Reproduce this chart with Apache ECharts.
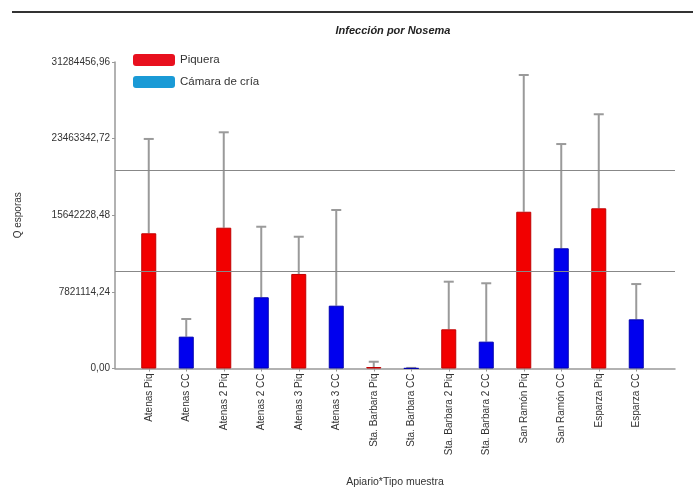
<!DOCTYPE html>
<html>
<head>
<meta charset="utf-8">
<script src="https://cdn.jsdelivr.net/npm/echarts@6/dist/echarts.min.js"></script>
<style>html,body{margin:0;padding:0;background:#fff;}#c{width:693px;height:490px;}</style>
</head>
<body>
<div id="c"></div>
<script>
var categories = ['Atenas Piq','Atenas CC','Atenas 2 Piq','Atenas 2 CC','Atenas 3 Piq','Atenas 3 CC','Sta. Barbara Piq','Sta. Barbara CC','Sta. Barbara 2 Piq','Sta. Barbara 2 CC','San Ramón Piq','San Ramón CC','Esparza Piq','Esparza CC'];
var sampleType = ['Piq','CC','Piq','CC','Piq','CC','Piq','CC','Piq','CC','Piq','CC','Piq','CC'];
var means = [13800000, 3250000, 14370000, 7270000, 9650000, 6410000, 150000, 20000, 4000000, 2740000, 16000000, 12270000, 16350000, 5020000];
var upper = [23430000, 5050000, 24110000, 14470000, 13450000, 16180000, 690000, 60000, 8860000, 8700000, 29960000, 22910000, 25950000, 8620000];
var refLines = [20200000, 9900000];
var yTicks = [0, 7821114.24, 15642228.48, 23463342.72, 31284456.96];
var seriesNames = ['Piquera', 'Cámara de cría'];

var yMax = yTicks[yTicks.length - 1];
var yInt = yTicks[1];

var piqData = means.map(function (v, i) { return sampleType[i] === 'Piq' ? v : '-'; });
var ccData = means.map(function (v, i) { return sampleType[i] === 'CC' ? v : '-'; });
var errData = means.map(function (v, i) { return [i, v, upper[i]]; });

function fmt(v) { return v.toFixed(2).replace('.', ','); }

var FONT = 'Liberation Sans';
var chart = echarts.init(document.getElementById('c'), null, {renderer: 'canvas'});
chart.setOption({
  animation: false,
  backgroundColor: '#fff',
  title: {
    text: 'Infección por Nosema',
    left: 393, top: 25, textAlign: 'center', padding: 0,
    textStyle: {fontSize: 11, fontWeight: 'bold', fontStyle: 'italic', color: '#222', fontFamily: FONT}
  },
  graphic: [{
    type: 'rect', left: 12, top: 11, shape: {width: 681, height: 2}, style: {fill: '#333'}
  }],
  legend: {
    orient: 'vertical', left: 133, top: 54, padding: 0,
    icon: 'roundRect', itemWidth: 42, itemHeight: 12, itemGap: 10,
    textStyle: {fontSize: 11.5, color: '#333', fontFamily: FONT},
    data: [
      {name: seriesNames[0], itemStyle: {color: '#e8101e', borderWidth: 0}},
      {name: seriesNames[1], itemStyle: {color: '#1a9ad6', borderWidth: 0}}
    ]
  },
  grid: [
    {left: 115, right: 18, top: 62, bottom: 121.5, outerBoundsMode: 'none', containLabel: false},
    {left: 130, right: 38, top: 62, bottom: 121.5, outerBoundsMode: 'none', containLabel: false}
  ],
  xAxis: [
    {gridIndex: 0, type: 'value', min: 0, max: 1, axisLabel: {show: false}, axisTick: {show: false}, splitLine: {show: false},
     axisLine: {lineStyle: {color: '#999', width: 1.5}},
     name: 'Apiario*Tipo muestra', nameLocation: 'middle', nameGap: 108,
     nameTextStyle: {fontSize: 10.5, color: '#333', fontFamily: FONT}},
    {gridIndex: 1, type: 'category', data: categories, axisLine: {show: false},
     axisTick: {show: true, alignWithLabel: true, length: 3, lineStyle: {color: '#999'}},
     axisLabel: {rotate: 90, fontSize: 10, color: '#333', margin: 5, interval: 0, fontFamily: FONT}}
  ],
  yAxis: [
    {gridIndex: 0, type: 'value', min: 0, max: yMax, interval: yInt,
     axisLine: {show: true, lineStyle: {color: '#999', width: 1.5}},
     axisTick: {show: true, length: 3, lineStyle: {color: '#999'}},
     splitLine: {show: false},
     axisLabel: {fontSize: 10, color: '#333', margin: 5, formatter: fmt, fontFamily: FONT},
     name: 'Q esporas', nameLocation: 'middle', nameGap: 92,
     nameTextStyle: {fontSize: 10, color: '#333', fontFamily: FONT}},
    {gridIndex: 1, type: 'value', min: 0, max: yMax, interval: yInt, show: false}
  ],
  series: [
    {type: 'scatter', xAxisIndex: 0, yAxisIndex: 0, data: [[0.5, 0]], symbolSize: 0, silent: true,
     markLine: {silent: true, symbol: 'none', label: {show: false},
       lineStyle: {color: '#888', width: 1, type: 'solid'},
       data: refLines.map(function (v) { return {yAxis: v}; })}},
    {name: seriesNames[0], type: 'bar', xAxisIndex: 1, yAxisIndex: 1, data: piqData, barWidth: 15, barGap: '-100%',
     itemStyle: {color: '#f20000', borderColor: '#c00000', borderWidth: 1}},
    {name: seriesNames[1], type: 'bar', xAxisIndex: 1, yAxisIndex: 1, data: ccData, barWidth: 15, barGap: '-100%',
     itemStyle: {color: '#0000ee', borderColor: '#0000b0', borderWidth: 1}},
    {type: 'custom', xAxisIndex: 1, yAxisIndex: 1, data: errData, silent: true, z: 1,
     renderItem: function (params, api) {
       var x = api.value(0);
       var p0 = api.coord([x, api.value(1)]);
       var p1 = api.coord([x, api.value(2)]);
       var hw = 5;
       var c = '#9a9a9a';
       return {type: 'group', children: [
         {type: 'line', shape: {x1: p0[0], y1: p0[1], x2: p1[0], y2: p1[1]}, style: {stroke: c, lineWidth: 2}},
         {type: 'line', shape: {x1: p1[0] - hw, y1: p1[1], x2: p1[0] + hw, y2: p1[1]}, style: {stroke: c, lineWidth: 2}}
       ]};
     }}
  ]
});
</script>
</body>
</html>
